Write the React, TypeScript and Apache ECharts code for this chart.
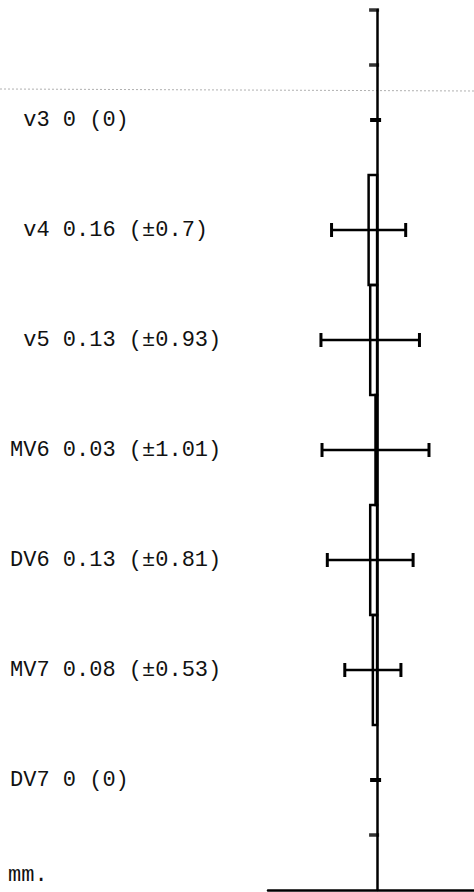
import React, { useEffect, useRef } from "react";
import * as echarts from "echarts";

const categories = ["v3", "v4", "v5", "MV6", "DV6", "MV7", "DV7"];
const meanValues = [0, 0.16, 0.13, 0.03, 0.13, 0.08, 0];
const sdValues = [0, 0.7, 0.93, 1.01, 0.81, 0.53, 0];
const boundaryTicks = [-1, -0.5, 6.5];
const unitLabel = "mm.";

const labelTexts = categories.map((c, i) => {
  const name = c.length < 3 ? " " + c : c;
  const sd = sdValues[i] === 0 ? "0" : "±" + sdValues[i];
  return `${name} ${meanValues[i]} (${sd})`;
});

const FONT = "'Liberation Mono', 'DejaVu Sans Mono', monospace";

export default function App() {
  const ref = useRef<HTMLDivElement>(null);
  useEffect(() => {
    if (!ref.current) return;
    const chart = echarts.init(ref.current, null, { renderer: "svg" });
    const data = categories.map((_, i) => [i, meanValues[i], sdValues[i]]);
    chart.setOption({
      animation: false,
      backgroundColor: "#ffffff",
      grid: { left: 268, right: 0, top: 10, bottom: 2, containLabel: false },
      xAxis: {
        type: "value",
        min: -1.83,
        max: 2.06,
        inverse: true,
        axisLine: { show: true, onZero: false, lineStyle: { color: "#000", width: 2.5 } },
        axisTick: { show: false },
        axisLabel: { show: false },
        splitLine: { show: false },
      },
      yAxis: [
        {
          type: "value",
          min: -1,
          max: 7,
          inverse: true,
          axisLine: { show: true, onZero: true, lineStyle: { color: "#000", width: 2.5 } },
          axisTick: { show: false },
          axisLabel: { show: false },
          splitLine: { show: false },
        },
        {
          type: "value",
          min: -1,
          max: 7,
          interval: 1,
          inverse: true,
          position: "left",
          axisLine: { show: false, onZero: false },
          axisTick: { show: false },
          splitLine: { show: false },
          axisLabel: {
            show: true,
            align: "left",
            margin: 258,
            fontFamily: FONT,
            fontSize: 22,
            color: "#111",
            formatter: (v: number) => labelTexts[Math.round(v)] ?? "",
          },
        },
      ],
      graphic: [
        {
          type: "line",
          shape: { x1: 0, y1: 89, x2: 474, y2: 91 },
          style: { stroke: "#b0b0b0", lineWidth: 1, lineDash: [2, 2] },
          silent: true,
        },
        {
          type: "text",
          left: 8,
          top: 864,
          style: { text: unitLabel, font: `22px ${FONT}`, fill: "#111" },
        },
      ],
      series: [
        {
          type: "custom",
          clip: false,
          encode: { x: 1, y: 0 },
          data,
          renderItem: (params: any, api: any) => {
            const i = api.value(0);
            const m = api.value(1);
            const sd = api.value(2);
            const children: any[] = [];
            const c = api.coord([m, i]);
            if (m !== 0) {
              const p0 = api.coord([0, i - 0.5]);
              const p1 = api.coord([m, i + 0.5]);
              children.push({
                type: "rect",
                shape: {
                  x: Math.min(p0[0], p1[0]),
                  y: Math.min(p0[1], p1[1]),
                  width: Math.abs(p1[0] - p0[0]),
                  height: Math.abs(p1[1] - p0[1]),
                },
                style: { fill: "none", stroke: "#000", lineWidth: 2.5 },
              });
            }
            if (sd > 0) {
              const lo = api.coord([m - sd, i]);
              const hi = api.coord([m + sd, i]);
              children.push({
                type: "line",
                shape: { x1: lo[0], y1: lo[1], x2: hi[0], y2: hi[1] },
                style: { stroke: "#000", lineWidth: 2.5 },
              });
              [lo, hi].forEach((p) =>
                children.push({
                  type: "line",
                  shape: { x1: p[0], y1: p[1] - 7, x2: p[0], y2: p[1] + 7 },
                  style: { stroke: "#000", lineWidth: 3 },
                })
              );
            } else {
              children.push({
                type: "line",
                shape: { x1: c[0] - 7, y1: c[1], x2: c[0] + 4, y2: c[1] },
                style: { stroke: "#000", lineWidth: 4 },
              });
            }
            return { type: "group", children };
          },
        },
        {
          type: "scatter",
          data: boundaryTicks.map((y) => [0, y]),
          symbol: "rect",
          symbolSize: [10, 3.5],
          symbolOffset: [-3, 0],
          itemStyle: { color: "#000" },
          silent: true,
        },
      ],
    });
    return () => chart.dispose();
  }, []);
  return (
    <div
      ref={ref}
      style={{ position: "fixed", left: 0, top: 0, width: 474, height: 892, background: "#fff" }}
    />
  );
}
